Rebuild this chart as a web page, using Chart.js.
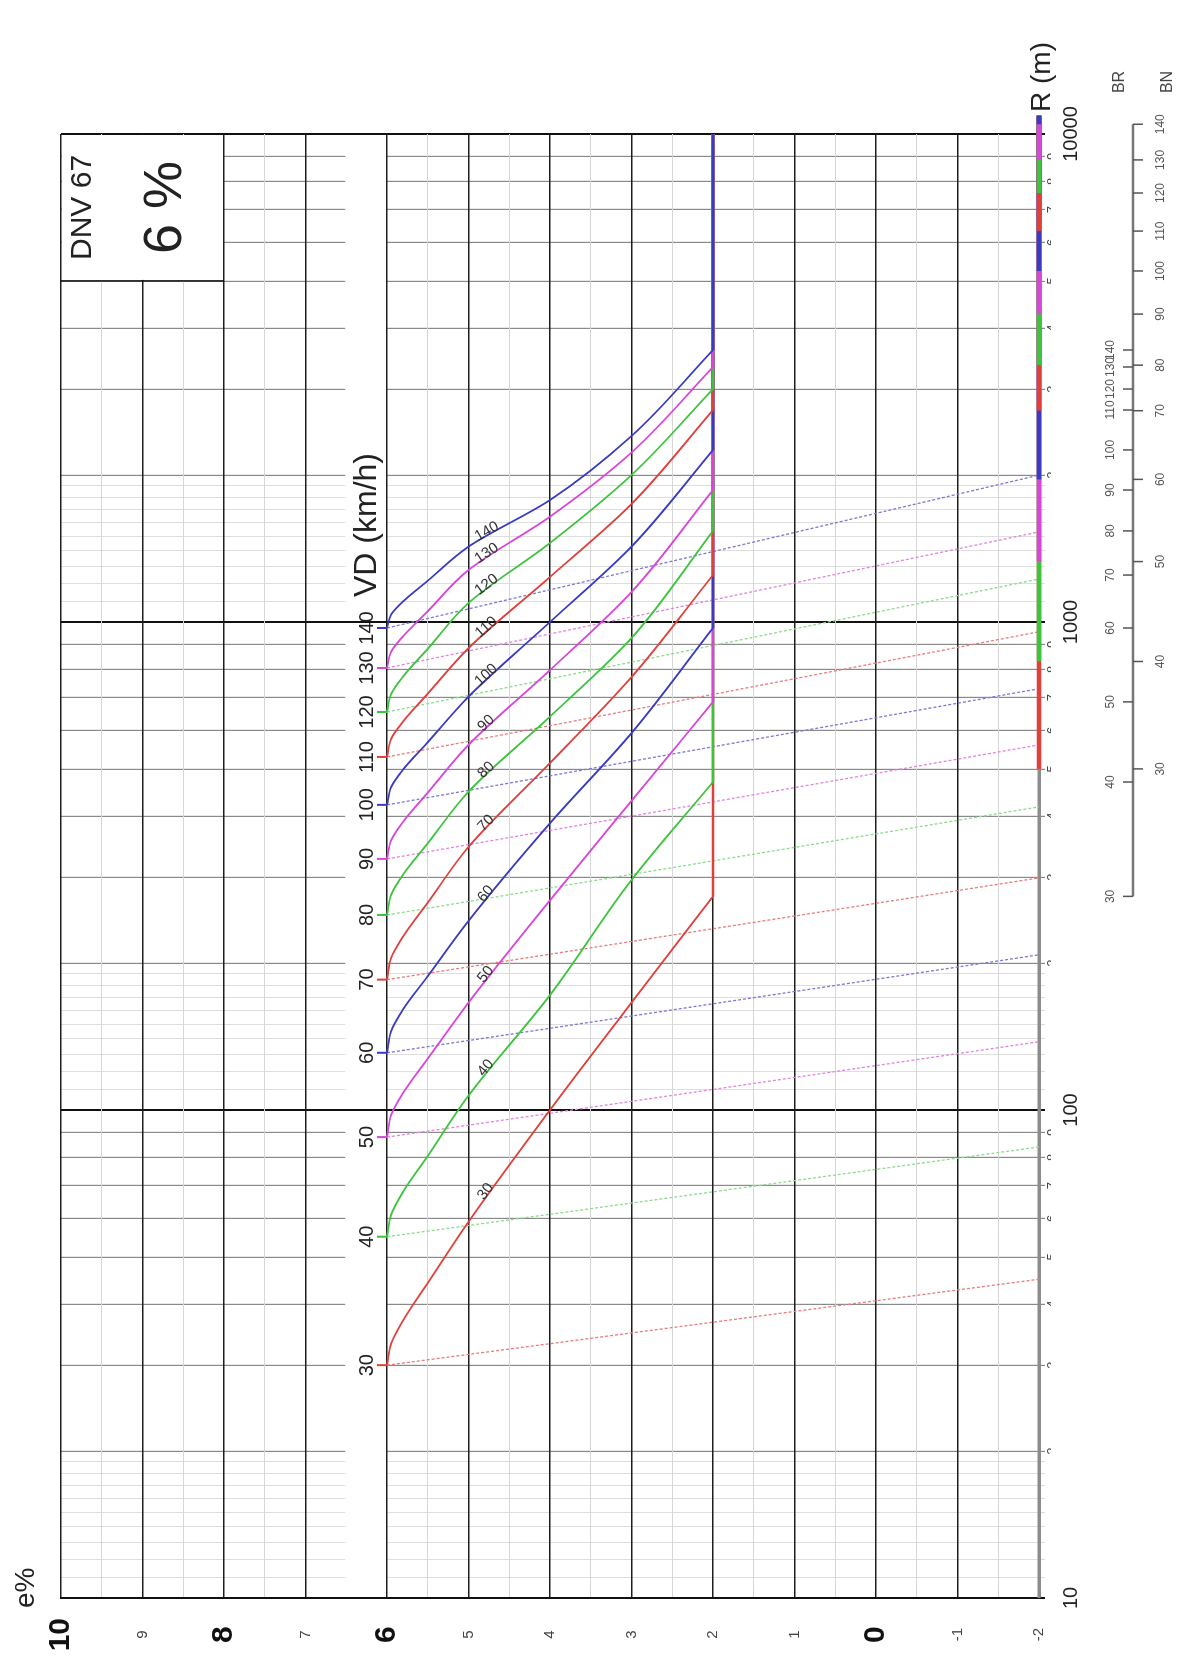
<!DOCTYPE html>
<html>
<head>
<meta charset="utf-8">
<script src="https://cdn.jsdelivr.net/npm/chart.js@4.4.1/dist/chart.umd.min.js"></script>
<style>
  html, body { margin: 0; padding: 0; background: #fff; overflow: hidden; }
  /* the abacus is laid out landscape and turned a quarter turn to stand on the page */
  #sheet {
    position: absolute; left: 0; top: 0;
    width: 1667px; height: 1180px;
    transform-origin: 0 0;
    transform: translateY(1667px) rotate(-90deg);
  }
</style>
</head>
<body>
<div id="sheet"><canvas id="chart" width="1667" height="1180"></canvas></div>
<script>
const FONT = '"Liberation Sans", Arial, Helvetica, sans-serif';

// design speeds (km/h)
const vd = [30, 40, 50, 60, 70, 80, 90, 100, 110, 120, 130, 140];

// radius R (m) where each speed curve passes the superelevation levels in eLevels
const eLevels = [6, 5.95, 5.8, 5.5, 5, 4, 3, 2];
const rMin = [30, 55, 88, 131, 185, 251, 327, 422, 529, 654, 805, 972];
const r595 = [33.2, 61, 97.7, 145, 205, 276, 357, 459, 576, 712, 869, 1035];
const r58  = [37.1, 68.1, 108.5, 161, 227, 304, 390, 499, 626, 774, 936, 1103];
const r55  = [44.2, 80.5, 127.4, 188, 266, 352, 447, 567, 713, 881, 1052, 1215];
const r5   = [59, 107, 166, 244, 346, 449, 560, 703, 884, 1094, 1278, 1427];
const r4   = [100, 172, 269, 387, 514, 640, 797, 1000, 1237, 1452, 1644, 1778];
const r3   = [166, 296, 430, 592, 771, 927, 1152, 1427, 1745, 2001, 2225, 2405];
const rBR  = [274, 470, 686, 972, 1248, 1537, 1864, 2252, 2719, 3002, 3331, 3609];

// radius where normal crown (-2 %) starts, and end of the dotted lines at -2 %
const rBN = [500, 830, 1330, 1960, 2710, 3360, 4275, 5240, 6325, 7570, 8850, 10470];
const rDotEnd = [45, 84, 138, 208, 299, 418, 560, 730, 955, 1225, 1530, 2000];

const rMax = 10000;
const rAxisEnd = 10900;

// R axis ticks
const rDecades = [10, 100, 1000, 10000];
const rMultiples = [2, 3, 4, 5, 6, 7, 8, 9];
const rTenths = [1.1, 1.2, 1.3, 1.4, 1.5, 1.6, 1.7, 1.8, 1.9];

// e axis ticks
const eMajor = [-2, -1, 0, 1, 2, 3, 4, 5, 6, 7, 8, 9, 10];
const eBold = [10, 8, 6, 0];

const lineColors = ['#e0403c', '#3cc43c', '#d846d8', '#3a3ac2'];
const dotColors = ['#ea7c7c', '#8cdc8c', '#e284e2', '#7a7ad4'];

const rTicks = [];
rDecades.forEach((d, k) => {
  rTicks.push({ value: d, kind: 'decade', label: '' });
  if (k === rDecades.length - 1) return;
  rTenths.forEach(t => rTicks.push({ value: d * t, kind: 'tenth', label: '' }));
  rMultiples.forEach(m => rTicks.push({ value: d * m, kind: 'multiple', label: String(m) }));
});
rTicks.sort((a, b) => a.value - b.value);

const eTicks = [];
eMajor.forEach(e => { eTicks.push(e); if (e < 10) eTicks.push(e + 0.5); });

const datasets = [];
vd.forEach((v, i) => {
  const c = lineColors[i % 4];
  const series = [rMin, r595, r58, r55, r5, r4, r3, rBR];
  datasets.push({
    data: series.map((arr, k) => ({ x: arr[i], y: eLevels[k] })),
    borderColor: c, borderWidth: 1.8, cubicInterpolationMode: 'monotone', order: 300 - v
  });
  datasets.push({
    data: [{ x: rBR[i], y: 2 }, { x: rMax, y: 2 }],
    borderColor: c, borderWidth: 2.4, order: 300 - v
  });
  datasets.push({
    data: [{ x: rMin[i], y: 6 }, { x: rDotEnd[i], y: -2 }],
    borderColor: dotColors[i % 4], borderWidth: 1.3, borderDash: [3, 2], order: 600 - v
  });
  datasets.push({
    data: [{ x: rBN[i], y: -2 }, { x: rAxisEnd, y: -2 }],
    borderColor: c, borderWidth: 4.5, clip: false, order: 150 - v
  });
});
datasets.push({
  data: [{ x: 10, y: -2 }, { x: rAxisEnd, y: -2 }],
  borderColor: '#8c8c8c', borderWidth: 3, clip: false, order: 1000
});

function text(ctx, s, x, y, size, opts = {}) {
  ctx.font = (opts.weight || 'normal') + ' ' + size + 'px ' + FONT;
  ctx.fillStyle = opts.color || '#222';
  ctx.textAlign = opts.align || 'center';
  ctx.textBaseline = 'middle';
  ctx.fillText(s, x, y);
}

const kindOf = c => (c && c.index !== undefined && rTicks[c.index]) ? rTicks[c.index].kind : 'multiple';
const eOf = c => (c && c.tick) ? c.tick.value : 1;

const overlay = {
  id: 'overlay',
  beforeDatasetsDraw(chart) {
    const { ctx, chartArea: a, scales: { x, y } } = chart;
    ctx.save();
    // empty band between e = 6.5 and e = 6 that carries the VD labels
    const g1 = y.getPixelForValue(6.5), g2 = y.getPixelForValue(6);
    ctx.fillStyle = '#fff';
    ctx.fillRect(a.left + 1, g1 - 1, a.right - a.left - 1, g2 - g1);
    ctx.strokeStyle = '#111';
    ctx.lineWidth = 2;
    rDecades.forEach(r => {
      const px = x.getPixelForValue(r);
      ctx.beginPath(); ctx.moveTo(px, g1 - 2); ctx.lineTo(px, g2); ctx.stroke();
    });

    // title box
    const bx1 = x.getPixelForValue(5000), bx2 = x.getPixelForValue(10000);
    const by1 = y.getPixelForValue(10), by2 = y.getPixelForValue(8);
    ctx.fillStyle = '#fff';
    ctx.fillRect(bx1 + 1, by1 + 1, bx2 - bx1 - 2, by2 - by1 - 2);
    ctx.lineWidth = 1.5;
    ctx.beginPath(); ctx.moveTo(bx1, by1); ctx.lineTo(bx1, by2); ctx.stroke();
    const cx = (bx1 + bx2) / 2;
    text(ctx, 'DNV 67', cx, y.getPixelForValue(9.73), 30);
    text(ctx, '6 %', cx, y.getPixelForValue(8.71), 54);
    ctx.restore();
  },
  afterDatasetsDraw(chart) {
    const { ctx, chartArea: a, scales: { x, y } } = chart;
    ctx.save();
    const e6 = y.getPixelForValue(6);

    // VD ticks and labels along e = 6
    vd.forEach((v, i) => {
      const px = x.getPixelForValue(rMin[i]);
      ctx.strokeStyle = lineColors[i % 4];
      ctx.lineWidth = 2;
      ctx.beginPath(); ctx.moveTo(px, e6 - 10); ctx.lineTo(px, e6); ctx.stroke();
      text(ctx, String(v), px, e6 - 20, 20);
    });
    text(ctx, 'VD (km/h)', x.getPixelForValue(rMin[rMin.length - 1]) + 31, e6 - 20, 32, { align: 'left' });

    // speed labels written along each curve
    vd.forEach((v, i) => {
      const p5x = x.getPixelForValue(r5[i]), p5y = y.getPixelForValue(5);
      const p4x = x.getPixelForValue(r4[i]), p4y = y.getPixelForValue(4);
      const lx = p5x + 0.25 * (p4x - p5x), ly = p5y + 0.25 * (p4y - p5y);
      ctx.save();
      ctx.translate(lx, ly);
      ctx.rotate(Math.atan2(p4y - p5y, p4x - p5x));
      text(ctx, String(v), 0, -4, 15, { color: '#333' });
      ctx.restore();
    });

    // BR / BN scale under the R axis
    const sy = a.bottom + 94;
    ctx.strokeStyle = '#777';
    ctx.lineWidth = 2.5;
    ctx.beginPath();
    ctx.moveTo(x.getPixelForValue(rBR[0]), sy);
    ctx.lineTo(x.getPixelForValue(rBN[rBN.length - 1]), sy);
    ctx.stroke();
    ctx.lineWidth = 1.5;
    ctx.strokeStyle = '#555';
    vd.forEach((v, i) => {
      const bx = x.getPixelForValue(rBR[i]);
      ctx.beginPath(); ctx.moveTo(bx, sy - 10); ctx.lineTo(bx, sy); ctx.stroke();
      text(ctx, String(v), bx, sy - 22, 12, { color: '#555' });
      const nx = x.getPixelForValue(rBN[i]);
      ctx.beginPath(); ctx.moveTo(nx, sy); ctx.lineTo(nx, sy + 10); ctx.stroke();
      text(ctx, String(v), nx, sy + 28, 12, { color: '#555' });
    });
    text(ctx, 'BR', a.right + 52, sy - 13, 16, { color: '#444' });
    text(ctx, 'BN', a.right + 52, sy + 35, 16, { color: '#444' });

    text(ctx, 'R (m)', a.right + 22, a.bottom + 3, 28, { align: 'left' });
    text(ctx, 'e%', a.left - 10, a.top - 35, 28, { align: 'left' });
    ctx.restore();
  }
};

const ctx = document.getElementById('chart').getContext('2d');
const chart = new Chart(ctx, {
  type: 'line',
  data: { datasets },
  options: {
    responsive: false,
    animation: false,
    devicePixelRatio: 1,
    events: [],
    layout: { padding: { top: 61, right: 134, bottom: 0, left: 0 } },
    elements: { point: { radius: 0 }, line: { tension: 0, borderCapStyle: 'butt' } },
    plugins: { legend: { display: false }, tooltip: { enabled: false } },
    scales: {
      x: {
        type: 'logarithmic', position: 'bottom', min: 10, max: rMax, weight: 0,
        afterBuildTicks: s => { s.ticks = rTicks.map(t => ({ value: t.value })); },
        afterFit: s => { s.height = 12; },
        grid: {
          color: c => {
            const k = kindOf(c);
            return k === 'decade' ? '#111' : k === 'multiple' ? '#8a8a8a' : '#dedede';
          },
          lineWidth: c => {
            const k = kindOf(c);
            return k === 'decade' ? 2 : k === 'multiple' ? 1.2 : 1;
          },
          tickLength: 6
        },
        border: { color: '#8c8c8c', width: 3 },
        ticks: {
          autoSkip: false, maxRotation: 0, minRotation: 0, padding: 0,
          font: { family: FONT, size: 13 }, color: '#444',
          callback: (val, i) => rTicks[i] ? rTicks[i].label : ''
        }
      },
      x2: {
        type: 'logarithmic', position: 'bottom', min: 10, max: rMax, weight: 1,
        afterBuildTicks: s => { s.ticks = rDecades.map(value => ({ value })); },
        afterFit: s => { s.height = 129; },
        grid: { display: false },
        border: { display: false },
        ticks: {
          autoSkip: false, maxRotation: 0, minRotation: 0, padding: 0,
          font: { family: FONT, size: 20 }, color: '#222',
          callback: v => String(v)
        }
      },
      y: {
        type: 'linear', position: 'left', min: -2, max: 10,
        afterBuildTicks: s => { s.ticks = eTicks.map(value => ({ value })); },
        afterFit: s => { s.width = 69; },
        grid: {
          drawTicks: false,
          color: c => eOf(c) === -2 ? '#8c8c8c' : Number.isInteger(eOf(c)) ? '#1e1e1e' : '#d6d6d6',
          lineWidth: c => eOf(c) === -2 ? 3 : Number.isInteger(eOf(c)) ? 1.4 : 1
        },
        border: { color: '#111', width: 2 },
        ticks: {
          crossAlign: 'center', padding: 20, autoSkip: false,
          font: c => eBold.includes(eOf(c))
            ? { family: FONT, size: 30, weight: 'bold' }
            : { family: FONT, size: 15 },
          color: c => eBold.includes(eOf(c)) ? '#111' : '#444',
          callback: v => Number.isInteger(v) ? String(v) : ''
        }
      }
    }
  },
  plugins: [overlay]
});
</script>
</body>
</html>
